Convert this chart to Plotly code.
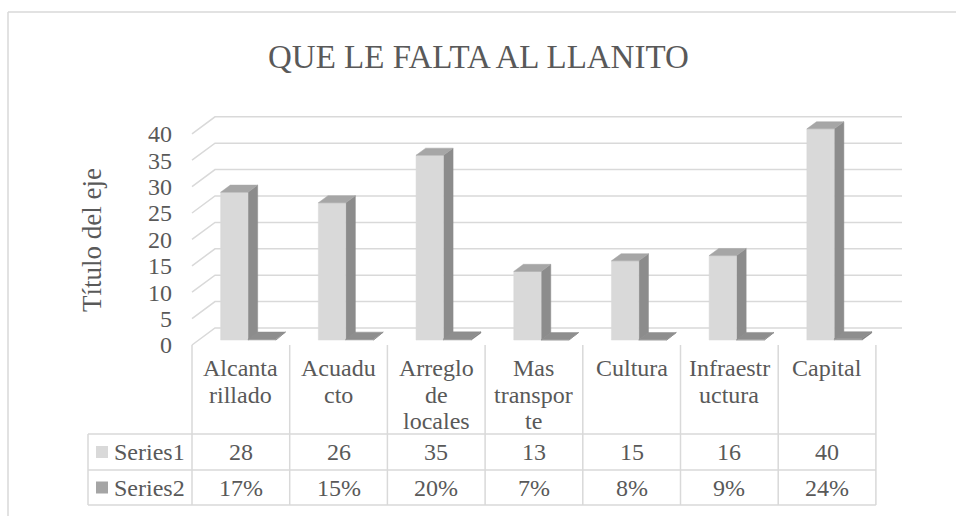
import plotly.graph_objects as go

# ---------------- data ----------------
categories = ["Alcantarillado", "Acuaducto", "Arreglo de locales", "Mas transporte",
              "Cultura", "Infraestructura", "Capital"]
category_lines = [["Alcanta", "rillado"], ["Acuadu", "cto"], ["Arreglo", "de", "locales"],
                  ["Mas", "transpor", "te"], ["Cultura"], ["Infraestr", "uctura"], ["Capital"]]
series_names = ["Series1", "Series2"]
series1 = [28, 26, 35, 13, 15, 16, 40]
series2 = [0.17, 0.15, 0.20, 0.07, 0.08, 0.09, 0.24]
y_ticks = [0, 5, 10, 15, 20, 25, 30, 35, 40]
title_text = "QUE LE FALTA AL LLANITO"
axis_title = "Título del eje"

# ---------------- layout constants ----------------
W, H = 956, 516
X0PX = 192.0      # pixel of left edge of first category
XPX = 97.7        # pixels per category
Y0PX = 345.0      # pixel of value 0 (front)
YPX = 5.28        # pixels per value unit
DX = 23.0 / XPX   # depth offset (category units)
DY = 17.0 / YPX   # depth offset (value units)
F0, F1 = 0.29, 0.71  # bar depth planes
S_OFF = [(-0.275, 0.005), (0.005, 0.29)]
FONT = "Times New Roman"
TXT = "#595959"
GRID = "#d9d9d9"
FRONT = ["#d9d9d9", "#a5a5a5"]
SIDE = ["#8c8c8c", "#777777"]
TOP = ["#a6a6a6", "#8e8e8e"]

n = len(categories)


def xd(px):
    return -0.5 + (px - X0PX) / XPX


def yd(py):
    return (Y0PX - py) / YPX


def P(x, v, f):
    return x + f * DX, v + f * DY


fig = go.Figure()

# gridlines (side wall diagonal + back wall)
x_right = xd(902)
gx, gy = [], []
for t in y_ticks:
    a = P(-0.5, t, 0)
    b = P(-0.5, t, 1)
    gx += [a[0], b[0], x_right, None]
    gy += [a[1], b[1], b[1], None]
fig.add_trace(go.Scatter(x=gx, y=gy, mode="lines", line=dict(color=GRID, width=1.5),
                         hoverinfo="skip", showlegend=False))

# bars
for s, vals in enumerate([series1, series2]):
    faces = {"front": ([], []), "side": ([], []), "top": ([], [])}
    for i, v in enumerate(vals):
        x0, x1 = i + S_OFF[s][0], i + S_OFF[s][1]
        polys = {
            "front": [P(x0, 0, F0), P(x1, 0, F0), P(x1, v, F0), P(x0, v, F0)],
            "side": [P(x1, 0, F0), P(x1, 0, F1), P(x1, v, F1), P(x1, v, F0)],
            "top": [P(x0, v, F0), P(x1, v, F0), P(x1, v, F1), P(x0, v, F1)],
        }
        for k, pts in polys.items():
            for (px_, py_) in pts + [pts[0]]:
                faces[k][0].append(px_)
                faces[k][1].append(py_)
            faces[k][0].append(None)
            faces[k][1].append(None)
    for k, col in [("side", SIDE[s]), ("front", FRONT[s]), ("top", TOP[s])]:
        fig.add_trace(go.Scatter(x=faces[k][0], y=faces[k][1], mode="lines", fill="toself",
                                 fillcolor=col, line=dict(color=col, width=0.5),
                                 hoverinfo="skip", showlegend=False))

shapes = []
# chart frame (top and left borders)
shapes.append(dict(type="line", xref="paper", yref="paper", x0=8 / W, x1=1, y0=1 - 12 / H, y1=1 - 12 / H,
                   line=dict(color=GRID, width=1.5)))
shapes.append(dict(type="line", xref="paper", yref="paper", x0=8 / W, x1=8 / W, y0=0, y1=1 - 12 / H,
                   line=dict(color=GRID, width=1.5)))

# data table grid
row_top, row_mid, row_bot = 434, 470, 505
for b in range(n + 1):
    shapes.append(dict(type="line", xref="x", yref="y", x0=b - 0.5, x1=b - 0.5,
                       y0=yd(Y0PX), y1=yd(row_bot), line=dict(color=GRID, width=1.5)))
shapes.append(dict(type="line", xref="x", yref="y", x0=xd(88), x1=xd(88),
                   y0=yd(row_top), y1=yd(row_bot), line=dict(color=GRID, width=1.5)))
for ry in [row_top, row_mid, row_bot]:
    shapes.append(dict(type="line", xref="x", yref="y", x0=xd(88), x1=n - 0.5,
                       y0=yd(ry), y1=yd(ry), line=dict(color=GRID, width=1.5)))

annotations = []
# title
annotations.append(dict(text=title_text, xref="paper", yref="paper", x=478 / W, y=1 - 57 / H,
                        xanchor="center", yanchor="middle", showarrow=False,
                        font=dict(family=FONT, size=33, color=TXT)))
# axis title
annotations.append(dict(text=axis_title, xref="paper", yref="paper", x=92 / W, y=1 - 240 / H,
                        textangle=-90, xanchor="center", yanchor="middle", showarrow=False,
                        font=dict(family=FONT, size=27, color=TXT)))
# category header lines
for i, lines in enumerate(category_lines):
    for k, ln in enumerate(lines):
        annotations.append(dict(text=ln, xref="x", yref="y", x=i, y=yd(368 + k * 26.7),
                                xanchor="center", yanchor="middle", showarrow=False,
                                font=dict(family=FONT, size=24, color=TXT)))
# value rows
row_centers = [(row_top + row_mid) / 2, (row_mid + row_bot) / 2]
for i in range(n):
    annotations.append(dict(text=str(series1[i]), xref="x", yref="y", x=i, y=yd(row_centers[0]),
                            xanchor="center", yanchor="middle", showarrow=False,
                            font=dict(family=FONT, size=24, color=TXT)))
    annotations.append(dict(text=f"{round(series2[i] * 100)}%", xref="x", yref="y", x=i,
                            y=yd(row_centers[1]), xanchor="center", yanchor="middle", showarrow=False,
                            font=dict(family=FONT, size=24, color=TXT)))
# legend keys in table
for s, name in enumerate(series_names):
    rc = row_centers[s]
    shapes.append(dict(type="rect", xref="x", yref="y", x0=xd(96), x1=xd(108),
                       y0=yd(rc - 6), y1=yd(rc + 6), fillcolor=FRONT[s], line=dict(width=0)))
    annotations.append(dict(text=name, xref="x", yref="y", x=xd(112), y=yd(rc),
                            xanchor="left", yanchor="middle", showarrow=False,
                            font=dict(family=FONT, size=24, color=TXT)))

fig.update_layout(
    width=W, height=H,
    margin=dict(l=0, r=0, t=0, b=0),
    paper_bgcolor="white", plot_bgcolor="white",
    showlegend=False,
    font=dict(family=FONT, color=TXT),
    shapes=shapes, annotations=annotations,
    xaxis=dict(range=[xd(0), xd(W)], domain=[0, 1], visible=False, fixedrange=True),
    yaxis=dict(range=[yd(H), yd(0)], domain=[0, 1], anchor="free", position=X0PX / W,
               tickvals=y_ticks, ticktext=[str(t) for t in y_ticks],
               showgrid=False, zeroline=False, showline=False, ticks="",
               ticklabelstandoff=20,
               tickfont=dict(family=FONT, size=24, color=TXT), fixedrange=True),
)

fig.write_html("out.html", config={"displayModeBar": False},
               post_script="document.body.style.margin='0';document.body.style.padding='0';")
